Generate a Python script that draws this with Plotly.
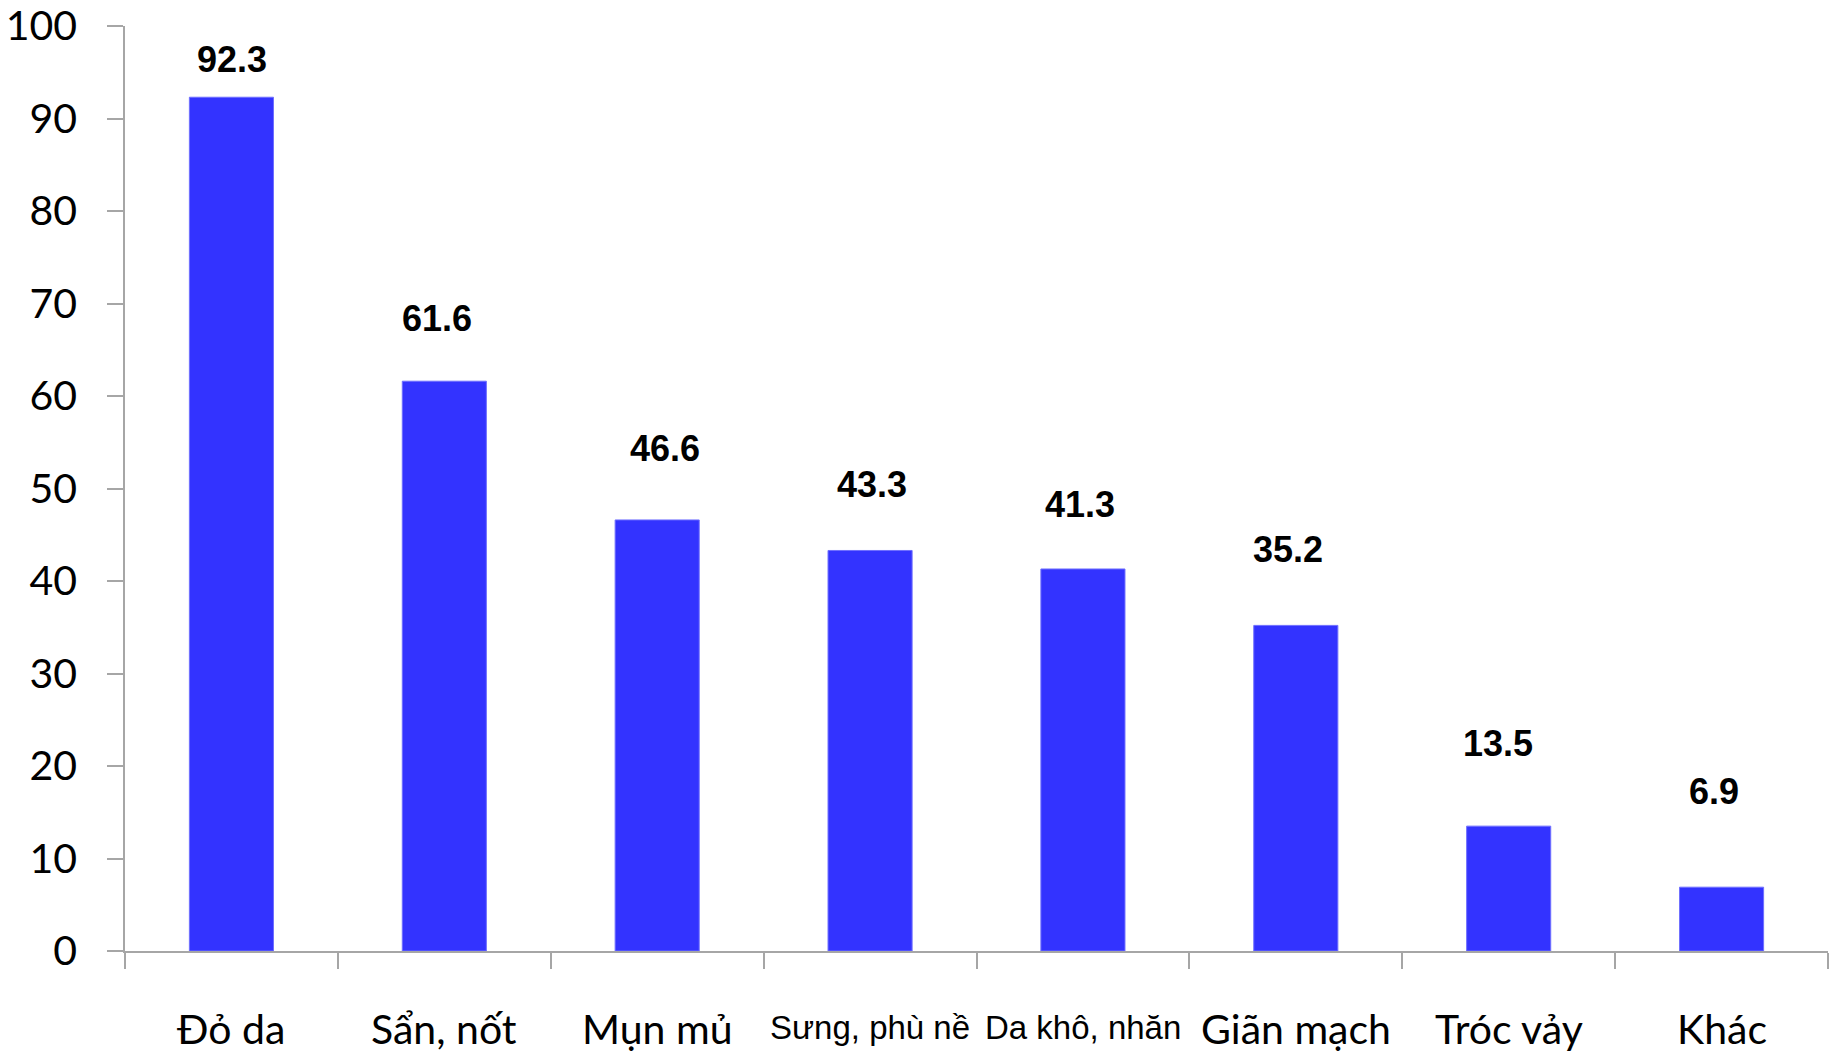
import plotly.graph_objects as go

# Skin reaction types and their frequency (%)
categories = ["Đỏ da", "Sẩn, nốt", "Mụn mủ", "Sưng, phù nề", "Da khô, nhăn",
              "Giãn mạch", "Tróc vảy", "Khác"]
values = [92.3, 61.6, 46.6, 43.3, 41.3, 35.2, 13.5, 6.9]
y_ticks = [0, 10, 20, 30, 40, 50, 60, 70, 80, 90, 100]

# Placement of the value labels above each bar (data units / pixels)
label_lift = [4.1, 6.8, 7.7, 7.1, 7.0, 8.2, 8.9, 10.3]
label_xshift = [1, -7, 8, 2, -3, -8, -11, -8]

# Category label fonts (two labels are set in a different face)
cat_fonts = ["Lato", "Lato", "Lato", "Liberation Sans", "Liberation Sans",
             "Lato", "Lato", "Lato"]
cat_sizes = [41, 41, 41, 33, 33, 41, 41, 41]
cat_yshift = [-77, -77, -77, -76, -76, -77, -77, -77]

AXIS = "#A6A6A6"

fig = go.Figure(
    go.Bar(
        x=categories,
        y=values,
        width=0.395,
        marker=dict(color="#3333FF", line=dict(color="#6F6FFF", width=1)),
        hoverinfo="skip",
    )
)

annotations = []
for cat, val, lift, xs in zip(categories, values, label_lift, label_xshift):
    annotations.append(dict(
        x=cat, y=val + lift, xref="x", yref="y", xshift=xs,
        text=f"{val:.1f}", showarrow=False, yanchor="middle",
        font=dict(family="Liberation Sans", size=36, color="#000000",
                  weight="bold"),
    ))
for cat, fam, size, ys in zip(categories, cat_fonts, cat_sizes, cat_yshift):
    annotations.append(dict(
        x=cat, y=0, xref="x", yref="y", yshift=ys,
        text=cat, showarrow=False, yanchor="middle",
        font=dict(family=fam, size=size, color="#000000"),
    ))

fig.update_layout(
    width=1831,
    height=1052,
    margin=dict(l=125, r=3, t=26, b=101),
    paper_bgcolor="white",
    plot_bgcolor="white",
    showlegend=False,
    annotations=annotations,
    xaxis=dict(
        type="category",
        tickson="boundaries",
        showticklabels=False,
        ticks="outside",
        ticklen=16,
        tickwidth=1.5,
        tickcolor=AXIS,
        showline=True,
        linecolor=AXIS,
        linewidth=1.5,
        showgrid=False,
        zeroline=False,
        automargin=False,
        range=[-0.5, 7.5],
    ),
    yaxis=dict(
        range=[0, 100],
        tickvals=y_ticks,
        ticks="outside",
        ticklen=16,
        tickwidth=1.5,
        tickcolor=AXIS,
        showline=True,
        linecolor=AXIS,
        linewidth=1.5,
        showgrid=False,
        zeroline=False,
        automargin=False,
        ticklabelstandoff=22,
        tickfont=dict(family="Lato", size=41, color="#000000"),
    ),
)

fig.write_html("out.html")
